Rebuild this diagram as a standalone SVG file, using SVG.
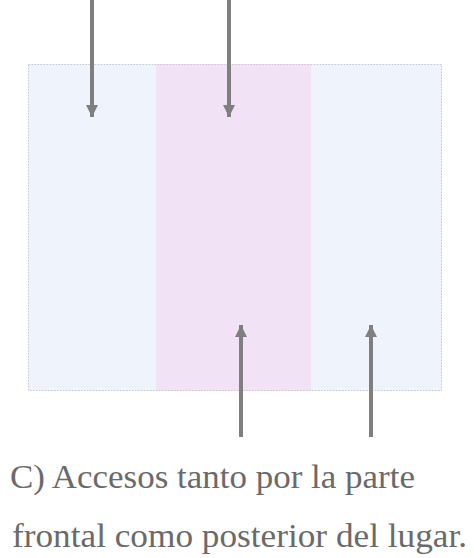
<svg xmlns="http://www.w3.org/2000/svg" width="474" height="558" viewBox="0 0 474 558">
<style>
.zone-a{fill:#eff4fc}
.zone-b{fill:#f1e2f5}
.border{fill:none;stroke:#c8c8c8;stroke-width:1;stroke-dasharray:1.5 1.5}
.arrow{stroke:#7f7f7f;stroke-width:4;fill:none;marker-end:url(#ah)}
.cap{font-family:"Liberation Serif","Palatino Linotype",serif;font-size:33px;fill:#6a6a6a}
</style>
<defs>
<marker id="ah" markerUnits="userSpaceOnUse" markerWidth="14" markerHeight="14" refX="12" refY="7" orient="auto">
<path d="M0,1 L12,7 L0,13 Z" fill="#7f7f7f"/>
</marker>
</defs>
<g id="plan">
<rect class="zone-a" x="28" y="64" width="128" height="327"/>
<rect class="zone-b" x="156" y="64" width="155" height="327"/>
<rect class="zone-a" x="311" y="64" width="131" height="327"/>
<rect class="border" x="28.5" y="64.5" width="413" height="326"/>
</g>
<g id="connectors">
<line class="arrow" x1="92" y1="0" x2="92" y2="117"/>
<line class="arrow" x1="229" y1="0" x2="229" y2="117"/>
<line class="arrow" x1="241" y1="437" x2="241" y2="325"/>
<line class="arrow" x1="371" y1="437" x2="371" y2="325"/>
</g>
<g id="caption">
<text class="cap" x="10" y="488" textLength="405" lengthAdjust="spacingAndGlyphs">C) Accesos tanto por la parte</text>
<text class="cap" x="12" y="547" textLength="455" lengthAdjust="spacingAndGlyphs">frontal como posterior del lugar.</text>
</g>
</svg>
